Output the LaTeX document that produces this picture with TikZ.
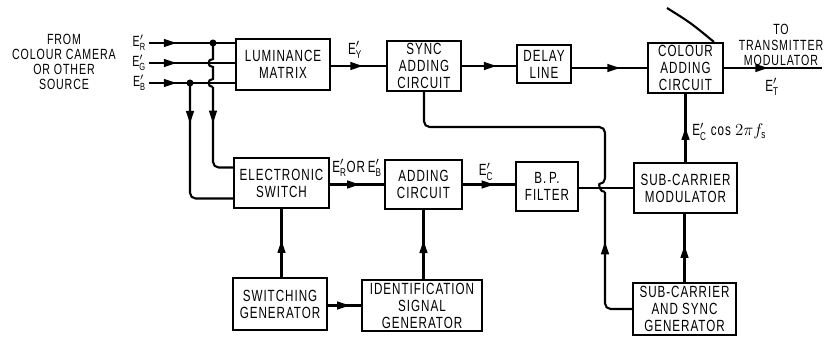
\documentclass[tikz,border=0pt]{standalone}
\usepackage{amsmath}
\usepackage{fontspec}
\setmainfont{Liberation Sans}[FakeStretch=0.72,LetterSpace=6]
\usepackage{tikz}
\usetikzlibrary{arrows.meta,positioning,calc,decorations.markings}
\newcommand{\blkfont}{\fontsize{11.5}{12.1}\selectfont}

\begin{document}
\begin{tikzpicture}[x=0.025cm,y=-0.025cm,
  blk/.style={draw,line width=1.2pt,align=center,inner sep=0pt,font=\blkfont},
  flow/.style={line width=1.5pt},
  arrowat/.style={postaction={decorate},decoration={markings,mark=at position #1 with {\arrow{Triangle[length=9pt,width=5.5pt]}}}},
  dot/.style={circle,fill,inner sep=0pt,minimum size=5pt},
  tag/.style={font=\blkfont,inner sep=0pt},
  intag/.style={font=\fontsize{10.5}{11}\selectfont,inner sep=0pt}]
\useasboundingbox (0,0) rectangle (837,337);
% blocks
\node[blk,minimum width=2.35cm,minimum height=1.275cm] (lum) at (283,64.5) {LUMINANCE\\MATRIX};
\node[blk,minimum width=1.85cm,minimum height=1.25cm] (sync) at (424,66) {SYNC\\ADDING\\CIRCUIT};
\node[blk,minimum width=1.35cm,minimum height=0.95cm] (delay) at (544,64) {DELAY\\LINE};
\node[blk,minimum width=1.875cm,minimum height=1.25cm] (cadd) at (685.5,68) {COLOUR\\ADDING\\CIRCUIT};
\node[blk,minimum width=2.375cm,minimum height=1.25cm] (eswitch) at (281.5,183) {ELECTRONIC\\SWITCH};
\node[blk,minimum width=1.925cm,minimum height=1.225cm] (add) at (423.5,184.5) {ADDING\\CIRCUIT};
\node[blk,minimum width=1.55cm,minimum height=1.225cm] (bpf) at (547,186.5) {B.\,P.\\FILTER};
\node[blk,minimum width=2.575cm,minimum height=1.25cm] (scmod) at (685.5,188) {SUB-CARRIER\\MODULATOR};
\node[blk,minimum width=2.35cm,minimum height=1.3cm] (swgen) at (280,304) {SWITCHING\\GENERATOR};
\node[blk,minimum width=3cm,minimum height=1.275cm] (idgen) at (422,305.5) {IDENTIFICATION\\SIGNAL\\GENERATOR};
\node[blk,minimum width=2.575cm,minimum height=1.3cm] (scgen) at (684.5,309) {SUB-CARRIER\\AND SYNC\\GENERATOR};
% source and inputs
\node[tag,align=center,font=\fontsize{10.5}{10.5}\selectfont] (src) at (64,62) {FROM\\COLOUR CAMERA\\OR OTHER\\SOURCE};
\coordinate (sR) at (149,43);
\coordinate (sG) at (149,63);
\coordinate (sB) at (149,83);
\node[intag,left=2pt of sR] (labR) {E$'_{\text{R}}$};
\node[intag,left=2pt of sG] (labG) {E$'_{\text{G}}$};
\node[intag,left=2pt of sB] (labB) {E$'_{\text{B}}$};
\draw[flow,arrowat=0.32] (sR) -- (sR -| lum.west);
\draw[flow,arrowat=0.32] (sG) -- (sG -| lum.west);
\draw[flow,arrowat=0.32] (sB) -- (sB -| lum.west);
\node[dot] (dR) at (213,43) {};
\node[dot] (dB) at (190,83) {};
\coordinate (swR) at ($(eswitch.north west)!0.2!(eswitch.south west)$);
\coordinate (swB) at ($(eswitch.north west)!0.8!(eswitch.south west)$);
\draw[flow] (dR.center) -- (213,59) .. controls +(-6,0) and +(-6,0) .. (213,67)
  -- (213,79) .. controls +(-6,0) and +(-6,0) .. (213,87) coordinate (hR);
\draw[flow,rounded corners=4pt,arrowat=0.37] (hR) |- (swR);
\draw[flow,rounded corners=4pt,arrowat=0.26] (dB.center) |- (swB);
% top row
\draw[flow,arrowat=0.58] (lum.east |- sync.west) -- (sync.west);
\node[tag] (ey) at (355,50) {E$'_{\text{Y}}$};
\draw[flow,arrowat=0.64] (sync.east) -- (sync.east -| delay.west);
\draw[flow,arrowat=0.64] (delay.east |- cadd.west) -- (cadd.west);
\coordinate (outT) at (822,68);
\draw[flow,arrowat=0.45] (cadd.east) -- (outT);
\node[tag,align=center,font=\fontsize{10.5}{11}\selectfont] (totx) at (781,45) {TO\\TRANSMITTER\\MODULATOR};
\node[tag] (et) at (772,87) {E$'_{\text{T}}$};
\coordinate (p1) at (667,8);
\coordinate (p2) at (714,42);
\draw[flow] (p1) .. controls (691,23) .. (p2);
% middle row
\draw[flow,arrowat=0.55] (eswitch.east |- add.west) -- (add.west);
\node[tag] (ror) at (357,168) {E$'_{\text{R}}$OR\,E$'_{\text{B}}$};
\draw[flow,arrowat=0.6] (add.east) -- (add.east -| bpf.west);
\node[tag] (ec) at (486,172) {E$'_{\text{C}}$};
\draw[flow] (bpf.east |- scmod.west) -- (scmod.west);
\draw[flow,arrowat=0.51] (scmod.north) -- (scmod.north |- cadd.south);
\node[tag,anchor=west] (ecos) at (692,132) {E$'_{\text{C}}$ cos $2\pi f_{\text{s}}$};
\draw[flow,arrowat=0.54] (scgen.north) -- (scgen.north |- scmod.south);
% sync return
\coordinate (hS) at (605,192);
\coordinate (jT) at (424,127);
\draw[flow,rounded corners=4pt,arrowat=0.65] (scgen.west) -| (hS);
\draw[flow,rounded corners=4pt] (hS) .. controls +(-6,0) and +(-6,0) .. (605,184) |- (jT) -- (sync.south);
% bottom row
\draw[flow,arrowat=0.66] (swgen.east |- idgen.west) -- (idgen.west);
\draw[flow,arrowat=0.54] (swgen.north -| eswitch.south) -- (eswitch.south);
\draw[flow,arrowat=0.56] (idgen.north -| add.south) -- (add.south);
\end{tikzpicture}
\end{document}
